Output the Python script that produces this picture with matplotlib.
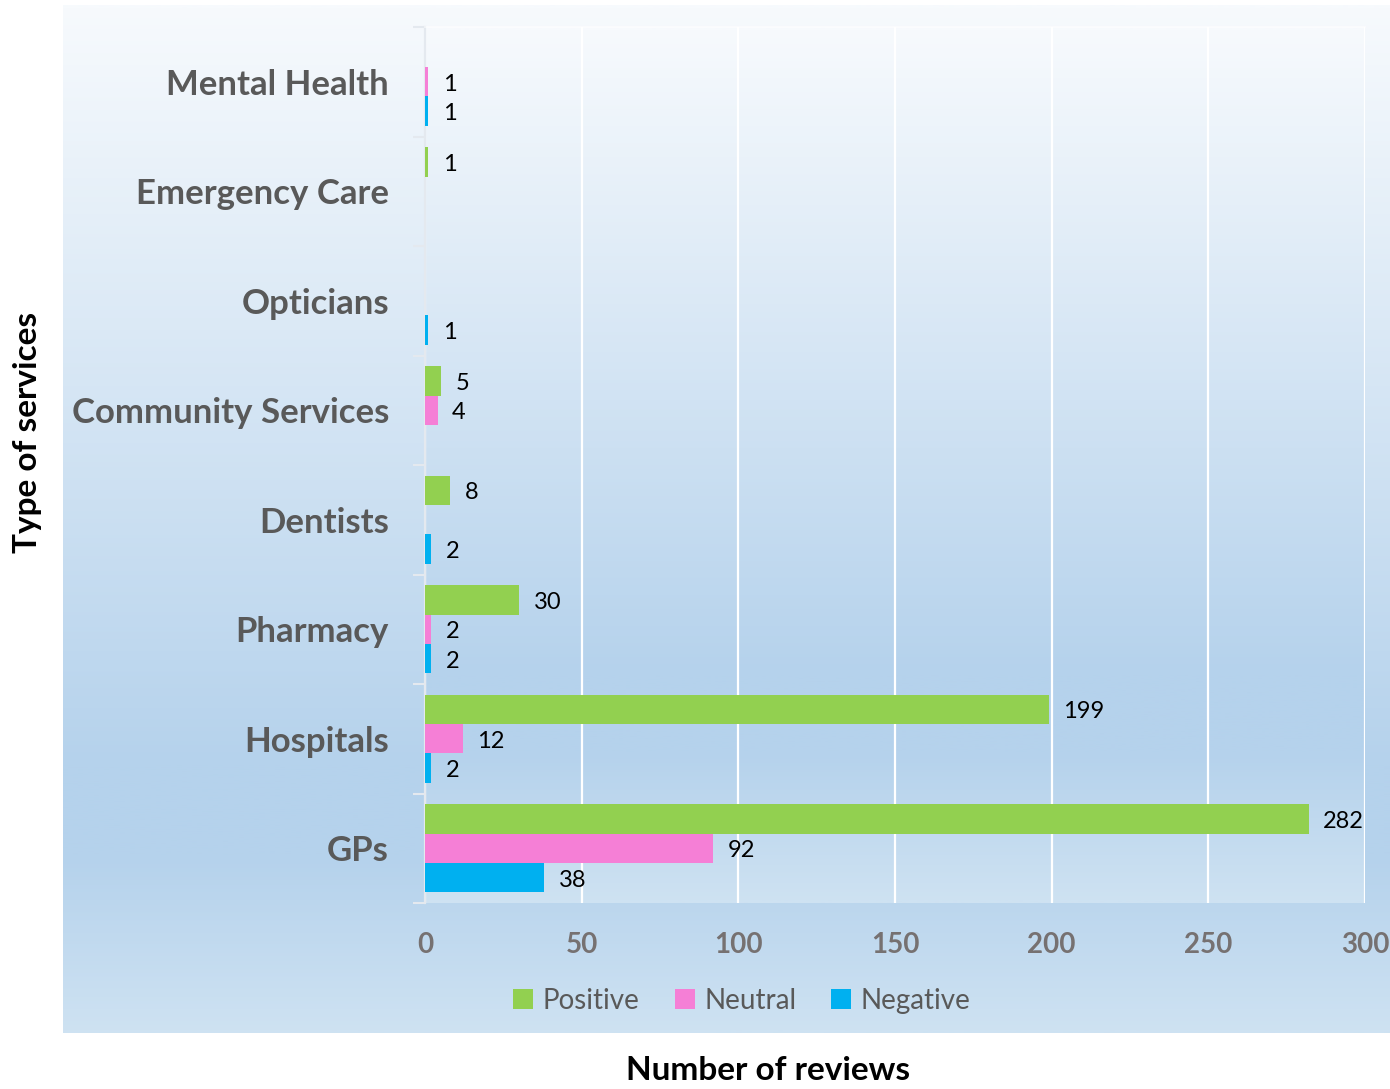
import numpy as np
import matplotlib
matplotlib.use("Agg")
import matplotlib.pyplot as plt
from matplotlib.colors import LinearSegmentedColormap
from matplotlib.patches import Patch
from matplotlib.ticker import FixedLocator

# ---- data -------------------------------------------------------------
categories = ["GPs", "Hospitals", "Pharmacy", "Dentists",
              "Community Services", "Opticians", "Emergency Care", "Mental Health"]
positive = [282, 199, 30, 8, 5, 0, 1, 0]
neutral = [92, 12, 2, 0, 4, 0, 0, 1]
negative = [38, 2, 2, 2, 0, 1, 0, 1]
series_names = ["Positive", "Neutral", "Negative"]
series_colors = ["#92D050", "#F57FD6", "#00B0F0"]
x_ticks = [0, 50, 100, 150, 200, 250, 300]

FONT = "Lato"
GREY = "#595959"
TICK_GREY = "#767171"

W, H = 1390, 1089
fig = plt.figure(figsize=(W / 100, H / 100), dpi=100)
fig.patch.set_facecolor("white")

# light blue gradient used for the chart panel and the plot area
grad_cmap = LinearSegmentedColormap.from_list(
    "panel",
    [(0.0, (247/255, 250/255, 253/255)),
     (0.74, (181/255, 210/255, 236/255)),
     (0.83, (181/255, 210/255, 236/255)),
     (1.0, (206/255, 226/255, 242/255))])
grad = np.linspace(0, 1, 512).reshape(-1, 1)


def px_rect(x0, y0, x1, y1):
    return [x0 / W, 1 - y1 / H, (x1 - x0) / W, (y1 - y0) / H]


panel = fig.add_axes(px_rect(63, 5, 1390, 1033), zorder=0)
panel.imshow(grad, aspect="auto", cmap=grad_cmap, extent=[0, 1, 0, 1], origin="upper")
panel.set_axis_off()

plot_rect = px_rect(425, 27, 1365, 903)
plotbg = fig.add_axes(plot_rect, zorder=0.5)
plotbg.imshow(grad, aspect="auto", cmap=grad_cmap, extent=[0, 1, 0, 1], origin="upper")
plotbg.set_axis_off()

ax = fig.add_axes(plot_rect, zorder=1)
ax.set_facecolor("none")

# ---- bars -------------------------------------------------------------
y = np.arange(len(categories))
h = 0.2676
offsets = [h, 0.0, -h]
for vals, name, col, off in zip([positive, neutral, negative], series_names,
                                series_colors, offsets):
    ax.barh(y + off, vals, height=h, color=col, edgecolor="none",
            label=name, zorder=3)
    for yy, v in zip(y + off, vals):
        if v:
            ax.annotate(str(v), xy=(v, yy), xytext=(10.5, -1.8),
                        textcoords="offset points", va="center", ha="left",
                        fontsize=17, family=FONT, color="black", zorder=4)

ax.set_xlim(0, 300)
ax.set_ylim(-0.5, len(categories) - 0.5)

# ---- axes styling ---------------------------------------------------------
ax.set_xticks(x_ticks)
ax.set_xticklabels([str(t) for t in x_ticks], fontsize=20, family=FONT,
                   fontweight="bold", color=TICK_GREY)
ax.tick_params(axis="x", length=0, pad=21)

ax.set_yticks(y)
ax.set_yticklabels(categories, fontsize=25, family=FONT, fontweight="bold",
                   color=GREY)
ax.tick_params(axis="y", which="major", length=0, pad=26)
ax.yaxis.set_minor_locator(FixedLocator(np.arange(-0.5, len(categories), 1.0)))
ax.tick_params(axis="y", which="minor", length=9, width=1.5, color="#E4E9EF")

ax.set_axisbelow(True)
ax.xaxis.grid(True, color="white", linewidth=1.6, zorder=1)
ax.yaxis.grid(False)

for side in ["bottom", "right"]:
    ax.spines[side].set_visible(False)
ax.spines["left"].set_color("#E4E9EF")
ax.spines["left"].set_linewidth(1.6)
ax.spines["top"].set_color("white")
ax.spines["top"].set_alpha(0.6)
ax.spines["top"].set_linewidth(1.2)

# ---- legend ---------------------------------------------------------------
handles = [Patch(facecolor=c, edgecolor="none") for c in series_colors]
leg = fig.legend(handles, series_names, loc="center",
                 bbox_to_anchor=(742 / W, 1 - 1001 / H), ncol=3, frameon=False,
                 handlelength=0.72, handleheight=0.72, handletextpad=0.35,
                 columnspacing=1.25,
                 prop={"family": FONT, "size": 20})
for t in leg.get_texts():
    t.set_color(GREY)

# ---- axis titles ----------------------------------------------------------
fig.text(28 / W, 1 - 432 / H, "Type of services", rotation=90, ha="center",
         va="center", fontsize=24, family=FONT, fontweight="bold", color="black")
fig.text(768 / W, 1 - 1080 / H, "Number of reviews", ha="center",
         va="baseline", fontsize=24, family=FONT, fontweight="bold", color="black")

fig.savefig("out.png", dpi=100)
